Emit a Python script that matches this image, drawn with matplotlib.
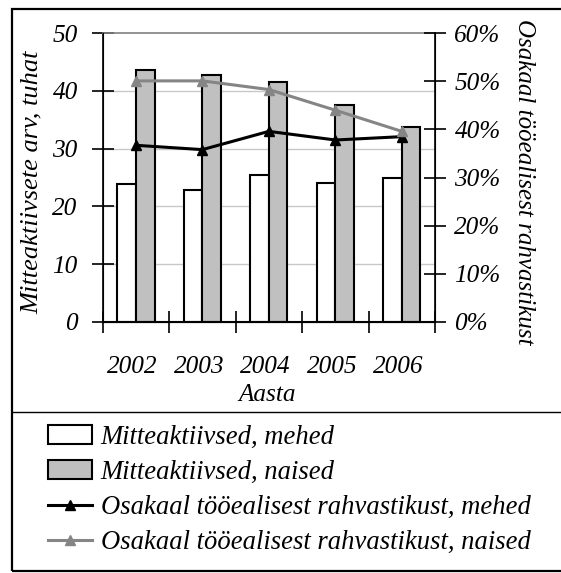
import numpy as np
import matplotlib.pyplot as plt
from matplotlib.patches import Rectangle
from matplotlib.lines import Line2D
from matplotlib.ticker import FuncFormatter

plt.rcParams['font.family'] = 'Liberation Serif'
plt.rcParams['font.style'] = 'italic'
plt.rcParams['font.size'] = 18

years = ['2002', '2003', '2004', '2005', '2006']
mehed = [23.8, 22.8, 25.5, 24.1, 24.9]
naised = [43.6, 42.7, 41.5, 37.5, 33.7]
osakaal_mehed = [36.7, 35.8, 39.6, 37.8, 38.5]
osakaal_naised = [50.1, 50.1, 48.3, 44.0, 39.6]

labels = ['Mitteaktiivsed, mehed', 'Mitteaktiivsed, naised',
          'Osakaal tööealisest rahvastikust, mehed',
          'Osakaal tööealisest rahvastikust, naised']

W, H = 561, 573
fs = 18.2
fig = plt.figure(figsize=(W / 100, H / 100), dpi=100)

ax = fig.add_axes([102.7 / W, 1 - 321.7 / H, (435 - 102.7) / W, (321.7 - 33.3) / H])
x = np.arange(len(years))
bw = 0.28
b1 = ax.bar(x - bw / 2, mehed, bw, color='white', edgecolor='black', linewidth=1.5, zorder=2)
b2 = ax.bar(x + bw / 2, naised, bw, color='#c0c0c0', edgecolor='black', linewidth=1.5, zorder=2)
ax.set_xlim(-0.5, len(years) - 0.5)
ax.set_ylim(0, 50)
ax.set_yticks(range(0, 51, 10))
ax.set_xticks(np.arange(-0.5, len(years), 1))
ax.set_xticklabels([])
ax.set_xticks(x - 0.05, minor=True)
ax.set_xticklabels(years, minor=True)
ax.tick_params(axis='x', which='minor', length=0, pad=25, labelsize=fs)
ax.tick_params(axis='x', which='major', direction='inout', length=16, width=1.2)
ax.tick_params(axis='y', direction='inout', length=16, width=1.2, pad=10, labelsize=fs)
for yv in range(10, 50, 10):
    ax.axhline(yv, color='#c8c8c8', linewidth=1.0, zorder=0)
ax.spines['top'].set_color('#808080')
ax.spines['top'].set_linewidth(1.2)
ax.spines['left'].set_linewidth(1.2)
ax.spines['bottom'].set_linewidth(1.5)

ax2 = ax.twinx()
l1, = ax2.plot(x, osakaal_mehed, color='black', linewidth=2.2, marker='^', markersize=7, zorder=3)
l2, = ax2.plot(x, osakaal_naised, color='#858585', linewidth=2.2, marker='^', markersize=7, zorder=3)
ax2.set_ylim(0, 60)
ax2.set_yticks(range(0, 61, 10))
ax2.yaxis.set_major_formatter(FuncFormatter(lambda v, p: '%d%%' % v))
ax2.tick_params(axis='y', direction='inout', length=16, width=1.2, pad=6, labelsize=fs)
ax2.spines['right'].set_linewidth(1.2)
ax2.spines['top'].set_visible(False)

fig.text(32 / W, 1 - 182 / H, 'Mitteaktiivsete arv, tuhat', rotation=90, ha='center', va='center', fontsize=19)
fig.text(524 / W, 1 - 182 / H, 'Osakaal tööealisest rahvastikust', rotation=-90, ha='center', va='center', fontsize=18)
fig.text(267 / W, 1 - 395 / H, 'Aasta', ha='center', va='center', fontsize=fs)

# frame and separator
fig.patches.append(Rectangle((12 / W, 1 - 571 / H), (W + 10) / W, (571 - 9) / H, transform=fig.transFigure,
                             fill=False, edgecolor='black', linewidth=1.6))
fig.lines.append(Line2D([12 / W, 1], [1 - 412 / H, 1 - 412 / H], transform=fig.transFigure,
                        color='black', linewidth=1.0))

leg = fig.legend([b1, b2, l1, l2], labels, loc='upper left', bbox_to_anchor=(48 / W, 1 - 425 / H),
                 frameon=False, handlelength=1.65, handletextpad=0.32, labelspacing=0.38,
                 fontsize=19.2, borderpad=0, borderaxespad=0)

fig.savefig('out.png', dpi=100)
